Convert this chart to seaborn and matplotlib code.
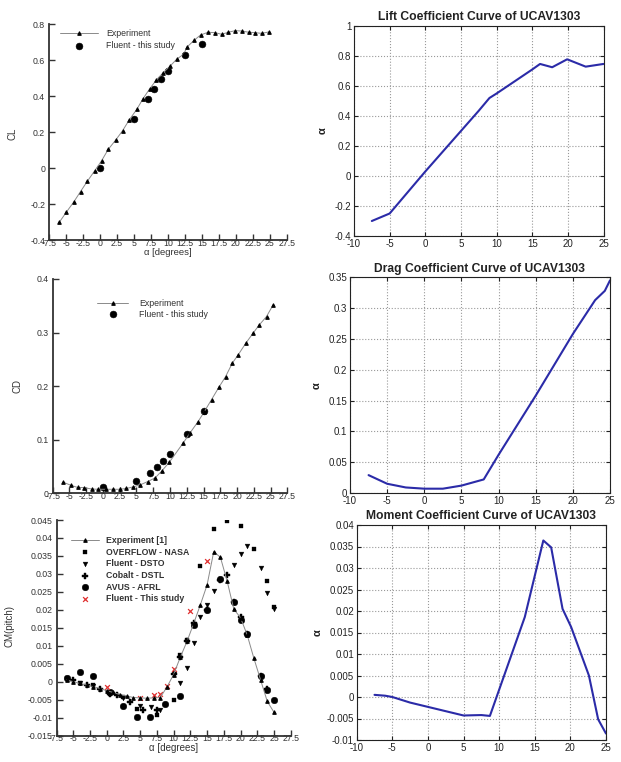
import numpy as np
import pandas as pd
import matplotlib
matplotlib.use('Agg')
import matplotlib.pyplot as plt
import seaborn as sns

sns.set_style('ticks')
plt.rcParams['font.family'] = ['Liberation Sans', 'DejaVu Sans']

# ---------------- data ----------------
# Top-left: lift coefficient (experiment vs Fluent)
cl_exp_alpha = [-6.0, -5.0, -3.9, -2.9, -1.9, -0.8, 0.2, 1.2, 2.3, 3.3, 4.3, 5.4, 6.3, 7.3, 8.3,
                9.3, 10.3, 11.3, 12.3, 12.8, 13.9, 14.8, 15.9, 16.9, 17.9, 18.9, 19.9, 20.9, 21.9, 22.8, 23.8, 24.9]
cl_exp = [-0.30, -0.246, -0.189, -0.131, -0.074, -0.015, 0.04, 0.104, 0.156, 0.207, 0.268, 0.326, 0.384, 0.44, 0.49,
          0.53, 0.566, 0.605, 0.632, 0.672, 0.711, 0.739, 0.754, 0.752, 0.743, 0.754, 0.763, 0.761, 0.754, 0.752, 0.748, 0.756]
cl_cfd_alpha = [0, 5, 7, 8, 9, 10, 12.5, 15]
cl_cfd = [0.0, 0.275, 0.385, 0.44, 0.495, 0.54, 0.63, 0.69]

# Top-right: lift coefficient curve
lift_alpha = [-7.5, -5, -2.5, 0, 2.5, 5, 7.5, 9, 10, 12.5, 15, 16.1, 17.8, 19.9, 22.5, 25]
lift_cl = [-0.30, -0.25, -0.11, 0.03, 0.165, 0.30, 0.435, 0.52, 0.55, 0.63, 0.71, 0.747, 0.725, 0.778, 0.729, 0.747]

# Middle-left: drag coefficient (experiment vs Fluent)
cd_exp_alpha = [-5.9, -4.8, -3.8, -2.8, -1.7, -0.7, 0.5, 1.5, 2.5, 3.5, 4.5, 5.5, 6.7, 7.8, 8.8, 9.9,
                12.0, 13.0, 14.2, 15.1, 16.2, 17.3, 18.3, 19.3, 20.2, 21.3, 22.4, 23.3, 24.4, 25.4]
cd_exp = [0.0205, 0.015, 0.011, 0.0106, 0.008, 0.0075, 0.0075, 0.0075, 0.0075, 0.009, 0.012, 0.0155, 0.022, 0.029, 0.042, 0.058,
          0.0945, 0.113, 0.134, 0.152, 0.175, 0.198, 0.218, 0.243, 0.259, 0.28, 0.299, 0.314, 0.330, 0.352]
cd_cfd_alpha = [0, 5, 7, 8, 9, 10, 12.5, 15]
cd_cfd = [0.012, 0.023, 0.037, 0.05, 0.061, 0.073, 0.111, 0.154]

# Middle-right: drag coefficient curve
drag_alpha = [-7.5, -5, -2.5, 0, 2.5, 5, 8, 10, 15, 20, 23, 24.3, 25]
drag_cd = [0.029, 0.015, 0.009, 0.007, 0.007, 0.012, 0.022, 0.062, 0.158, 0.258, 0.313, 0.328, 0.345]

# Bottom-left: pitching moment, several codes
cm_exp_alpha = [-6, -5, -4, -3, -2, -1, 0, 1, 2, 3, 4, 5, 6, 7, 8, 9, 10, 11, 12, 13, 14, 15, 16, 17, 18, 19, 20, 21, 22, 23, 24, 25]
cm_exp = [0.0005, 0.0, -0.0005, -0.0009, -0.0014, -0.0019, -0.0025, -0.003, -0.0036, -0.004, -0.0044, -0.0045, -0.0046, -0.0045,
          -0.0044, -0.0015, 0.002, 0.0068, 0.0112, 0.0162, 0.0214, 0.0269, 0.0362, 0.0346, 0.028, 0.0202, 0.0178, 0.013, 0.0065,
          0.0005, -0.0055, -0.0085]
overflow_alpha = [-6, -4, -2, 0.5, 2.5, 4.5, 7.5, 10, 11, 12, 14, 16, 18, 20, 22, 24, 25]
overflow_cm = [0.0011, -0.0005, -0.001, -0.0035, -0.0042, -0.0076, -0.0093, -0.0051, 0.0074, 0.0116, 0.0322, 0.0425, 0.0448,
               0.0434, 0.0369, 0.0281, 0.0207]
dsto_alpha = [-4, -2, 0, 2.5, 5, 6.6, 8, 10, 11, 12, 13, 14, 15, 16, 19, 20, 21, 23, 24, 25]
dsto_cm = [-0.0005, -0.0012, -0.0028, -0.0045, -0.0068, -0.0071, -0.0079, 0.0021, -0.0003, 0.0037, 0.0107, 0.0181, 0.0213,
           0.0253, 0.0325, 0.0354, 0.0378, 0.0316, 0.0246, 0.0202]
cobalt_alpha = [-5, -3, -1, 0.5, 1.5, 3.5, 5.5, 7.5, 10, 11, 12, 13, 15, 17, 18, 19, 20, 21, 23, 24]
cobalt_cm = [0.0005, -0.0009, -0.0021, -0.0033, -0.0037, -0.0056, -0.0079, -0.0079, 0.0021, 0.0068, 0.0112, 0.0162, 0.0200,
             0.0283, 0.0297, 0.0222, 0.0180, 0.0132, 0.0015, -0.002]
avus_alpha = [-6, -4, -2, 0.5, 2.5, 4.5, 6.5, 8.7, 11, 13, 15, 17, 19, 20, 21, 23, 24, 25]
avus_cm = [0.0011, 0.0028, 0.0016, -0.003, -0.0067, -0.0097, -0.0099, -0.0063, -0.004, 0.0158, 0.020, 0.0285, 0.0222, 0.0172,
           0.0132, 0.0017, -0.0022, -0.005]
fluent_alpha = [0, 5, 7, 8, 9, 10, 12.5, 15]
fluent_cm = [-0.0015, -0.0044, -0.0038, -0.0033, -0.0013, 0.0034, 0.0197, 0.0336]

# Bottom-right: moment coefficient curve
mom_alpha = [-7.5, -6, -5, -2.5, 0, 5, 7.5, 8.7, 13.6, 16.2, 17.3, 18.9, 20.1, 22.6, 23.9, 25]
mom_cm = [0.0005, 0.0003, 0.0, -0.0013, -0.0023, -0.0043, -0.0042, -0.0044, 0.0186, 0.0364, 0.0348, 0.0205, 0.0163, 0.005,
          -0.0052, -0.0085]

# tick labels
left_xticks = [-7.5, -5, -2.5, 0, 2.5, 5, 7.5, 10, 12.5, 15, 17.5, 20, 22.5, 25, 27.5]
left_xlabels = ['-7.5', '-5', '-2.5', '0', '2.5', '5', '7.5', '10', '12.5', '15', '17.5', '20', '22.5', '25', '27.5']
cl_yticks = [-0.4, -0.2, 0, 0.2, 0.4, 0.6, 0.8]
cl_ylabels = ['-0.4', '-0.2', '0', '0.2', '0.4', '0.6', '0.8']
cd_yticks = [0, 0.1, 0.2, 0.3, 0.4]
cd_ylabels = ['0', '0.1', '0.2', '0.3', '0.4']
cm_yticks = [-0.015, -0.01, -0.005, 0, 0.005, 0.01, 0.015, 0.02, 0.025, 0.03, 0.035, 0.04, 0.045]
cm_ylabels = ['-0.015', '-0.01', '-0.005', '0', '0.005', '0.01', '0.015', '0.02', '0.025', '0.03', '0.035', '0.04', '0.045']
right_xticks = [-10, -5, 0, 5, 10, 15, 20, 25]
right_xlabels = ['-10', '-5', '0', '5', '10', '15', '20', '25']
lift_yticks = [-0.4, -0.2, 0, 0.2, 0.4, 0.6, 0.8, 1.0]
lift_ylabels = ['-0.4', '-0.2', '0', '0.2', '0.4', '0.6', '0.8', '1']
drag_yticks = [0, 0.05, 0.1, 0.15, 0.2, 0.25, 0.3, 0.35]
drag_ylabels = ['0', '0.05', '0.1', '0.15', '0.2', '0.25', '0.3', '0.35']
mom_yticks = [-0.01, -0.005, 0, 0.005, 0.01, 0.015, 0.02, 0.025, 0.03, 0.035, 0.04]
mom_ylabels = ['-0.01', '-0.005', '0', '0.005', '0.01', '0.015', '0.02', '0.025', '0.03', '0.035', '0.04']

# ---------------- figure ----------------
W, H = 621, 762
fig = plt.figure(figsize=(W / 100, H / 100), dpi=100)


def ax_at(l, r, t, b):
    return fig.add_axes([l / W, 1 - b / H, (r - l) / W, (b - t) / H])


TXT = '#333333'
BLUE = '#2b2ba8'


def left_style(ax, ylim, yticks, ylabels):
    ax.set_xlim(-7.5, 27.5)
    ax.set_ylim(*ylim)
    ax.set_xticks(left_xticks)
    ax.set_xticklabels(left_xlabels)
    ax.set_yticks(yticks)
    ax.set_yticklabels(ylabels)
    for s in ['top', 'right']:
        ax.spines[s].set_visible(False)
    for s in ['left', 'bottom']:
        ax.spines[s].set_linewidth(1.3)
        ax.spines[s].set_color(TXT)
    ax.tick_params(axis='both', direction='in', length=4, width=1.0, labelsize=6.3, colors=TXT)
    ax.tick_params(axis='x', pad=-1)
    ax.tick_params(axis='y', pad=3)
    ax.set_xlabel('')
    ax.set_ylabel('')


def right_style(ax, ylim, yticks, ylabels, title):
    ax.set_xlim(-10, 25)
    ax.set_ylim(*ylim)
    ax.set_xticks(right_xticks)
    ax.set_xticklabels(right_xlabels)
    ax.set_yticks(yticks)
    ax.set_yticklabels(ylabels)
    ax.grid(True, linestyle=':', color='#999999', linewidth=0.8)
    for s in ax.spines.values():
        s.set_visible(True)
        s.set_linewidth(0.8)
        s.set_color('#222222')
    ax.tick_params(axis='both', direction='in', length=3, labelsize=7, colors='#222222', pad=2,
                   top=True, right=True)
    ax.tick_params(axis='x', pad=2.5)
    ax.set_xlabel('')
    ax.set_ylabel('α', fontsize=8, fontweight='bold', color='#222222')
    ax.set_title(title, fontsize=8.7, fontweight='bold', color='#222222', pad=4)


def exp_line(ax, x, y, label):
    sns.lineplot(x=x, y=y, ax=ax, sort=False, estimator=None, color='#8a8a8a', linewidth=0.7,
                 marker='^', markersize=2.6, markerfacecolor='k', markeredgecolor='k', label=label)


# ---- top-left ----
ax1 = ax_at(49.3, 286.7, 24, 240)
exp_line(ax1, cl_exp_alpha, cl_exp, 'Experiment')
sns.scatterplot(x=cl_cfd_alpha, y=cl_cfd, ax=ax1, marker='o', s=24, color='k', edgecolor='k', label='Fluent - this study')
left_style(ax1, (-0.4, 0.8), cl_yticks, cl_ylabels)
ax1.set_xlabel('α [degrees]', fontsize=6.8, color=TXT, labelpad=0)
ax1.set_ylabel('CL', fontsize=7, color=TXT)
ax1.yaxis.set_label_coords(-0.135, 0.49)
ax1.legend(loc='upper left', bbox_to_anchor=(0.045, 0.975), frameon=False, fontsize=6.3, handlelength=4.4,
           handletextpad=0.9, labelspacing=0.3, borderpad=0, borderaxespad=0)

# ---- top-right ----
ax2 = ax_at(354, 603.5, 26, 236)
sns.lineplot(x=lift_alpha, y=lift_cl, ax=ax2, sort=False, estimator=None, color=BLUE, linewidth=1.5)
right_style(ax2, (-0.4, 1.0), lift_yticks, lift_ylabels, 'Lift Coefficient Curve of UCAV1303')
ax2.yaxis.set_label_coords(-0.105, 0.5)

# ---- middle-left ----
ax3 = ax_at(52.7, 287.3, 279, 493.3)
exp_line(ax3, cd_exp_alpha, cd_exp, 'Experiment')
sns.scatterplot(x=cd_cfd_alpha, y=cd_cfd, ax=ax3, marker='o', s=24, color='k', edgecolor='k', label='Fluent - this study')
left_style(ax3, (0, 0.4), cd_yticks, cd_ylabels)
ax3.set_ylabel('CD', fontsize=7, color=TXT)
ax3.yaxis.set_label_coords(-0.13, 0.5)
ax3.legend(loc='upper left', bbox_to_anchor=(0.19, 0.905), frameon=False, fontsize=6.3, handlelength=3.5,
           handletextpad=1.3, labelspacing=0.15, borderpad=0, borderaxespad=0)

# ---- middle-right ----
ax4 = ax_at(350, 610, 277.3, 493)
sns.lineplot(x=drag_alpha, y=drag_cd, ax=ax4, sort=False, estimator=None, color=BLUE, linewidth=1.5)
right_style(ax4, (0, 0.35), drag_yticks, drag_ylabels, 'Drag Coefficient Curve of UCAV1303')
ax4.yaxis.set_label_coords(-0.108, 0.5)

# ---- bottom-left ----
ax5 = ax_at(56.5, 290.7, 520, 735.6)
exp_line(ax5, cm_exp_alpha, cm_exp, 'Experiment [1]')
sns.scatterplot(x=overflow_alpha, y=overflow_cm, ax=ax5, marker='s', s=9, color='k', edgecolor='k', label='OVERFLOW - NASA')
sns.scatterplot(x=dsto_alpha, y=dsto_cm, ax=ax5, marker='v', s=12, color='k', edgecolor='k', label='Fluent - DSTO')
sns.scatterplot(x=cobalt_alpha, y=cobalt_cm, ax=ax5, marker='P', s=14, color='k', edgecolor='k', label='Cobalt - DSTL')
sns.scatterplot(x=avus_alpha, y=avus_cm, ax=ax5, marker='o', s=22, color='k', edgecolor='k', label='AVUS - AFRL')
sns.scatterplot(x=fluent_alpha, y=fluent_cm, ax=ax5, marker='x', s=12, color='#e03030', linewidth=0.9,
                label='Fluent - This study')
left_style(ax5, (-0.015, 0.045), cm_yticks, cm_ylabels)
ax5.set_xlabel('α [degrees]', fontsize=7, color=TXT, labelpad=0)
ax5.set_ylabel('CM(pitch)', fontsize=7, color=TXT)
ax5.yaxis.set_label_coords(-0.18, 0.51)
leg = ax5.legend(loc='upper left', bbox_to_anchor=(0.06, 0.925), frameon=False, fontsize=6.3, handlelength=3.2,
                 handletextpad=0.9, labelspacing=0.3, borderpad=0, borderaxespad=0)
for t in leg.get_texts():
    t.set_fontweight('bold')
    t.set_color(TXT)

# ---- bottom-right ----
ax6 = ax_at(356.7, 606, 525, 740)
sns.lineplot(x=mom_alpha, y=mom_cm, ax=ax6, sort=False, estimator=None, color=BLUE, linewidth=1.5)
right_style(ax6, (-0.01, 0.04), mom_yticks, mom_ylabels, 'Moment Coefficient Curve of UCAV1303')
ax6.yaxis.set_label_coords(-0.135, 0.5)

for ax in (ax1, ax3):
    for t in ax.get_legend().get_texts():
        t.set_color(TXT)

fig.savefig('out.png', dpi=100)
